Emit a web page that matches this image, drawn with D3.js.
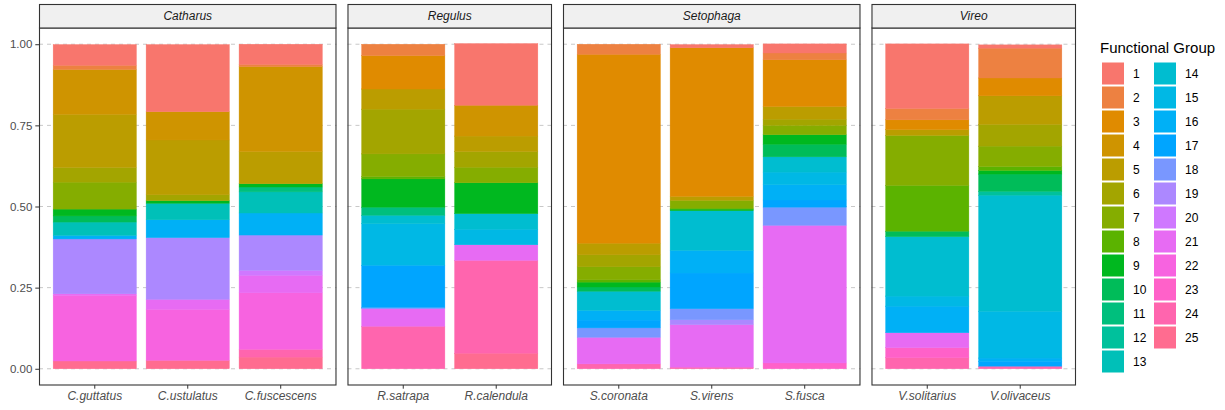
<!DOCTYPE html>
<html>
<head>
<meta charset="utf-8">
<script src="https://cdn.jsdelivr.net/npm/d3@7"></script>
<style>
  body { margin: 0; background: #fff; }
  svg { display: block; font-family: "Liberation Sans", Arial, sans-serif; }
</style>
</head>
<body>
<svg id="chart" width="1225" height="410"></svg>
<script>
// ---- data -------------------------------------------------------------
const genera = ["Catharus", "Regulus", "Setophaga", "Vireo"];
const speciesByGenus = {
  Catharus: ["C.guttatus", "C.ustulatus", "C.fuscescens"],
  Regulus: ["R.satrapa", "R.calendula"],
  Setophaga: ["S.coronata", "S.virens", "S.fusca"],
  Vireo: ["V.solitarius", "V.olivaceus"]
};
const groups = d3.range(1, 26).map(String);
const yTickValues = [0, 0.25, 0.5, 0.75, 1];
const yTickLabels = ["0.00", "0.25", "0.50", "0.75", "1.00"];

// proportion of diet in functional groups 1..25
const cGuttatus   = [0.064,0.013,0,0.138,0.164,0.045,0.083,0,0.021,0.019,0,0,0.041,0,0,0.011,0,0,0.169,0,0.005,0.202,0,0,0.024];
const cUstulatus  = [0.207,0,0,0.087,0.169,0.018,0,0,0.008,0,0,0,0.051,0,0,0.055,0,0,0.190,0,0.031,0.157,0,0,0.026];
const cFuscescens = [0.062,0.007,0,0.262,0.099,0,0,0,0.010,0,0.015,0,0.065,0,0,0.068,0,0,0.109,0.015,0.054,0.174,0,0.024,0.036];
const rSatrapa    = [0,0.035,0.103,0,0.062,0.138,0.070,0.007,0.087,0,0.025,0,0,0.026,0.128,0,0.130,0.004,0,0,0.054,0,0,0.131,0];
const rCalendula  = [0.190,0,0,0.095,0.048,0.048,0.048,0,0.095,0,0,0,0,0.048,0.048,0,0,0,0,0,0.048,0,0,0.286,0.048];
const sCoronata   = [0,0.031,0.582,0,0.036,0.037,0.040,0.007,0.015,0.013,0,0,0,0.059,0,0.030,0.024,0.029,0,0,0.082,0,0,0.015,0];
const sVirens     = [0.010,0,0.458,0,0.012,0,0.024,0.003,0.005,0,0,0,0,0.122,0,0.070,0.110,0.034,0.015,0,0.131,0,0,0.005,0];
const sFusca      = [0.028,0.021,0.144,0,0.039,0.019,0.029,0,0.029,0.039,0,0,0,0.047,0.039,0.047,0.022,0.056,0,0,0.424,0,0.018,0,0];
const vSolitarius = [0.199,0.035,0.030,0,0.018,0,0.154,0.141,0,0.017,0,0,0,0.183,0.031,0.082,0,0,0,0,0.046,0,0.031,0.034,0];
const vOlivaceus  = [0.010,0.092,0.055,0,0.088,0.067,0.063,0.012,0.011,0.053,0,0.012,0,0.358,0.144,0.010,0.015,0,0,0,0,0,0,0.008,0];

const dietBySpecies = {
  "C.guttatus": cGuttatus, "C.ustulatus": cUstulatus, "C.fuscescens": cFuscescens,
  "R.satrapa": rSatrapa, "R.calendula": rCalendula,
  "S.coronata": sCoronata, "S.virens": sVirens, "S.fusca": sFusca,
  "V.solitarius": vSolitarius, "V.olivaceus": vOlivaceus
};

// ---- colour: evenly spaced hues in polar CIE-Luv (l = 65, c = 100) ---
function polarLuv(h, c, l) {
  const rad = Math.PI / 180;
  const u = c * Math.cos(h * rad), v = c * Math.sin(h * rad);
  const Xn = 95.047, Yn = 100, Zn = 108.883;
  const Y = l > 7.999592 ? Yn * Math.pow((l + 16) / 116, 3) : Yn * l / 903.3;
  const t = Xn + 15 * Yn + 3 * Zn;
  const up = u / (13 * l) + 4 * Xn / t;
  const vp = v / (13 * l) + 9 * Yn / t;
  const X = Y * 9 * up / (4 * vp);
  const Z = Y * (12 - 3 * up - 20 * vp) / (4 * vp);
  const x = X / 100, y = Y / 100, z = Z / 100;
  const lin = [
     3.240479 * x - 1.537150 * y - 0.498535 * z,
    -0.969256 * x + 1.875992 * y + 0.041556 * z,
     0.055648 * x - 0.204043 * y + 1.057311 * z
  ];
  const g = lin.map(a => {
    const s = a <= 0.0031308 ? 12.92 * a : 1.055 * Math.pow(a, 1 / 2.4) - 0.055;
    return Math.round(255 * Math.max(0, Math.min(1, s)));
  });
  return d3.rgb(g[0], g[1], g[2]).formatHex();
}
const hueStep = 360 / groups.length;
const color = d3.scaleOrdinal()
  .domain(groups)
  .range(groups.map((g, i) => polarLuv(15 + i * hueStep, 100, 65)));

// ---- layout ---------------------------------------------------------
const svg = d3.select("#chart");
const plotLeft = 39, plotRight = 1076, panelGap = 11;
const stripTop = 4, stripH = 24;
const panelTop = stripTop + stripH, panelBottom = 385;
const nUnits = genera.reduce((s, g) => s + speciesByGenus[g].length + 0.2, 0);
const unit = (plotRight - plotLeft - panelGap * (genera.length - 1)) / nUnits;

const y = d3.scaleLinear().domain([-0.05, 1.05]).range([panelBottom, panelTop]);

const stack = d3.stack()
  .keys(groups.slice().reverse())
  .value((d, key) => d.values[+key - 1]);

const textCol = "#4D4D4D", frameCol = "#333333";

let x0 = plotLeft;
genera.forEach(genus => {
  const sp = speciesByGenus[genus];
  const w = unit * (sp.length + 0.2);
  const x = d3.scaleBand().domain(sp).range([x0, x0 + w])
    .paddingInner(0.1).paddingOuter(0.15);
  const g = svg.append("g");

  // grid
  g.selectAll("line.grid").data(yTickValues).join("line")
    .attr("x1", x0).attr("x2", x0 + w)
    .attr("y1", d => y(d)).attr("y2", d => y(d))
    .attr("stroke", "#C8C8C8").attr("stroke-width", 1)
    .attr("stroke-dasharray", "4,4");

  // stacked bars (group 1 on top)
  const rows = sp.map(s => ({ species: s, values: dietBySpecies[s] }));
  const series = stack(rows);
  g.selectAll("g.layer").data(series).join("g")
    .attr("fill", d => color(d.key))
    .attr("stroke", d => color(d.key))
    .attr("stroke-width", 0.4)
    .selectAll("rect").data(d => d.filter(p => p[1] - p[0] > 0)).join("rect")
    .attr("x", d => x(d.data.species) + 0.2)
    .attr("width", x.bandwidth() - 0.4)
    .attr("y", d => y(d[1]))
    .attr("height", d => Math.max(0, y(d[0]) - y(d[1])));

  // panel frame
  g.append("rect")
    .attr("x", x0 + 0.5).attr("y", panelTop)
    .attr("width", w - 1).attr("height", panelBottom - panelTop)
    .attr("fill", "none").attr("stroke", frameCol).attr("stroke-width", 1.1);

  // strip
  g.append("rect")
    .attr("x", x0 + 0.5).attr("y", stripTop + 0.5)
    .attr("width", w - 1).attr("height", stripH - 0.5)
    .attr("fill", "#F0F0F0").attr("stroke", frameCol).attr("stroke-width", 1.1);
  g.append("text")
    .attr("x", x0 + w / 2).attr("y", stripTop + stripH / 2 + 4)
    .attr("text-anchor", "middle").attr("font-style", "italic")
    .attr("font-size", 12).attr("fill", "#1A1A1A")
    .text(genus);

  // x axis
  const xAxis = d3.axisBottom(x).tickSize(3.7).tickPadding(3);
  const ax = g.append("g").attr("transform", `translate(0,${panelBottom})`).call(xAxis);
  ax.select(".domain").remove();
  ax.selectAll(".tick line").attr("stroke", frameCol);
  ax.selectAll(".tick text").attr("fill", textCol).attr("font-size", 12)
    .attr("font-style", "italic").attr("font-family", "Liberation Sans, Arial, sans-serif");

  x0 += w + panelGap;
});

// y axis (left of the first panel)
const yAxis = d3.axisLeft(y).tickValues(yTickValues)
  .tickFormat((d, i) => yTickLabels[i]).tickSize(3.7).tickPadding(3);
const ay = svg.append("g").attr("transform", `translate(${plotLeft},0)`).call(yAxis);
ay.select(".domain").remove();
ay.selectAll(".tick line").attr("stroke", frameCol);
ay.selectAll(".tick text").attr("fill", textCol).attr("font-size", 11.5)
  .attr("font-family", "Liberation Sans, Arial, sans-serif");

// legend
const legend = svg.append("g").attr("transform", "translate(1100,0)");
legend.append("text").attr("x", 0).attr("y", 53)
  .attr("font-size", 15).attr("fill", "#000").text("Functional Group");
const perCol = 13, keySize = 22, rowStep = 24, colStep = 52;
const keys = legend.selectAll("g.key").data(groups).join("g")
  .attr("transform", (d, i) =>
    `translate(${2 + Math.floor(i / perCol) * colStep},${62.5 + (i % perCol) * rowStep})`);
keys.append("rect").attr("width", keySize).attr("height", keySize)
  .attr("fill", d => color(d));
keys.append("text").attr("x", keySize + 9).attr("y", keySize / 2 + 4.2)
  .attr("font-size", 12).attr("fill", "#000").text(d => d);
</script>
</body>
</html>
